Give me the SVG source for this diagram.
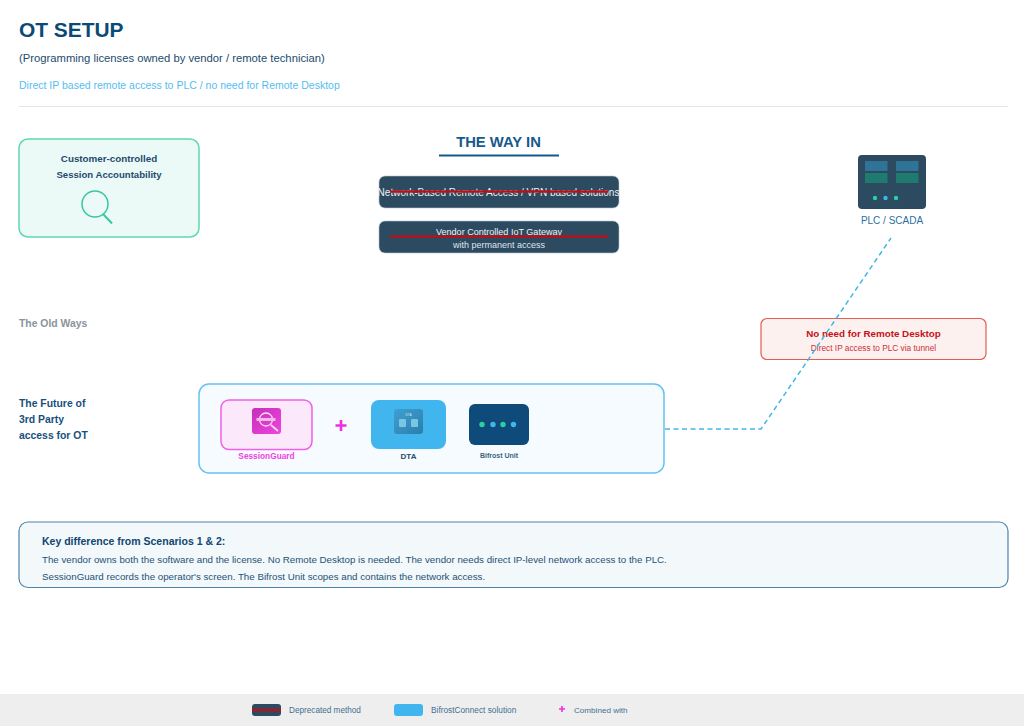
<svg xmlns="http://www.w3.org/2000/svg" width="1024" height="728" viewBox="0 0 1024 728">
<style>
text{font-family:"Liberation Sans",Arial,sans-serif}
.b{font-weight:700}
.m{text-anchor:middle}
.dep{fill:#2c4a60;stroke:#b8c4cc;stroke-width:.6}
.strike{stroke:#b5121b;stroke-width:2.4;fill:none}
.lnk{fill:none;stroke:#41b6e6;stroke-width:1.500;stroke-dasharray:5 3.500}
</style>
<defs>
<linearGradient id="sg" x1="0" y1="0" x2="1" y2="1"><stop offset="0" stop-color="#c62fb8"/><stop offset="1" stop-color="#f044e0"/></linearGradient>
<linearGradient id="dt" x1="0" y1="0" x2="1" y2="1"><stop offset="0" stop-color="#3f9fd0"/><stop offset="1" stop-color="#2a7fae"/></linearGradient>
</defs>
<rect width="1024" height="728" fill="#fff"/>
<g id="header">
<text x="19" y="37" font-size="20.900" class="b" fill="#0b4a78">OT SETUP</text>
<text x="19" y="62" font-size="11.250" fill="#1d4b6e">(Programming licenses owned by vendor / remote technician)</text>
<text x="19" y="89" font-size="10.500" fill="#55bdee">Direct IP based remote access to PLC / no need for Remote Desktop</text>
<line x1="19" y1="106.500" x2="1008" y2="106.500" stroke="#e3e5e7" stroke-width="1"/>
</g>
<g id="accountability">
<rect x="19" y="139" width="180" height="98" rx="9" fill="#ebfaf7" stroke="#5dd8b0" stroke-width="1.500"/>
<text x="109" y="162" font-size="9.800" class="b m" fill="#1f4a6e">Customer-controlled</text>
<text x="109" y="178" font-size="9.600" class="b m" fill="#1f4a6e">Session Accountability</text>
<circle cx="95" cy="204" r="13" fill="none" stroke="#38c9a0" stroke-width="1.500"/>
<line x1="103" y1="214" x2="112" y2="223.500" stroke="#38c9a0" stroke-width="2"/>
</g>
<g id="way-in">
<text x="498.500" y="147" font-size="14.800" class="b m" fill="#155a8c">THE WAY IN</text>
<line x1="439" y1="155.500" x2="559" y2="155.500" stroke="#155a8c" stroke-width="2"/>
</g>
<g id="vpn">
<rect class="dep" x="379" y="176" width="240" height="32" rx="6"/>
<text x="498.500" y="196" font-size="10" class="m" fill="#eef3f6">Network-Based Remote Access / VPN based solutions</text>
<line class="strike" x1="390" y1="191.500" x2="608" y2="191.500"/>
</g>
<g id="iot-gateway">
<rect class="dep" x="379" y="221" width="240" height="32" rx="6"/>
<text x="499" y="235" font-size="9.050" class="m" fill="#eef3f6">Vendor Controlled IoT Gateway</text>
<text x="499" y="248" font-size="9" class="m" fill="#dfe7ec">with permanent access</text>
<line class="strike" x1="390" y1="236.500" x2="608" y2="236.500"/>
</g>
<g id="plc">
<rect x="858" y="155" width="68" height="54" rx="4" fill="#2c4a60"/>
<rect x="865" y="161" width="22.500" height="10" fill="#2f7396"/>
<rect x="896" y="161" width="22.500" height="10" fill="#2f7396"/>
<rect x="865" y="173" width="22.500" height="10" fill="#1f7a70"/>
<rect x="896" y="173" width="22.500" height="10" fill="#1f7a70"/>
<circle cx="875" cy="198" r="2.200" fill="#2ad0a0"/>
<circle cx="885.500" cy="198" r="2.200" fill="#41b6e6"/>
<circle cx="896" cy="198" r="2.200" fill="#2ad0a0"/>
<text x="892" y="224" font-size="10" class="m" fill="#2c6f9e">PLC / SCADA</text>
</g>
<g id="no-rdp">
<rect x="761" y="318.500" width="225" height="41" rx="6" fill="#fdf1ef" stroke="#e45a55" stroke-width="1.200"/>
<text x="873.500" y="337" font-size="9.800" class="b m" fill="#c4111a">No need for Remote Desktop</text>
<text x="873.500" y="351" font-size="8.300" class="m" fill="#c8323a">Direct IP access to PLC via tunnel</text>
</g>
<g id="connectors">
<polyline class="lnk" points="665,429 761,429 891,238"/>
</g>
<g id="old-ways">
<text x="19" y="327" font-size="10.400" class="b" fill="#8c939a">The Old Ways</text>
</g>
<g id="future-label">
<text x="19" y="407" font-size="10.400" class="b" fill="#17507c">The Future of</text>
<text x="19" y="423" font-size="10.400" class="b" fill="#17507c">3rd Party</text>
<text x="19" y="439" font-size="10.400" class="b" fill="#17507c">access for OT</text>
</g>
<g id="future-panel">
<rect x="199" y="384" width="465" height="89" rx="10" fill="#f5fbfe" stroke="#66c2ee" stroke-width="1.500"/>
</g>
<g id="sessionguard">
<rect x="221" y="400" width="91" height="49.500" rx="8" fill="#fbe9fb" stroke="#f25fe6" stroke-width="1.500"/>
<rect x="252" y="408" width="29" height="26" rx="3" fill="url(#sg)"/>
<circle cx="266" cy="419.500" r="6.500" fill="none" stroke="#fbe0f8" stroke-width="1.300"/>
<rect x="256.500" y="418" width="19" height="3" fill="#f3b6ea"/>
<line x1="271" y1="425" x2="278" y2="431" stroke="#fbe0f8" stroke-width="1.800"/>
<text x="266.500" y="458.500" font-size="8.300" class="b m" fill="#f23fe0">SessionGuard</text>
</g>
<g id="plus">
<path d="M341 420v11M335.500 425.500h11" stroke="#f02fe0" stroke-width="2.600" fill="none"/>
</g>
<g id="dta">
<rect x="371" y="400" width="75" height="49" rx="8" fill="#41b6ee"/>
<rect x="394" y="409" width="29" height="25" rx="3" fill="url(#dt)"/>
<text x="408.500" y="416" font-size="3" class="m" fill="#d8f0fb">DTA</text>
<rect x="399" y="419" width="7" height="8" rx="1" fill="#7cc4e4"/>
<rect x="411" y="419" width="7" height="8" rx="1" fill="#7cc4e4"/>
<text x="408.500" y="458.500" font-size="8" class="b m" fill="#2c4a60">DTA</text>
</g>
<g id="bifrost">
<rect x="469" y="404" width="60" height="41" rx="6" fill="#0e4a7a"/>
<circle cx="482" cy="424.500" r="2.700" fill="#2ad0a0"/>
<circle cx="493" cy="424.500" r="2.700" fill="#41b6e6"/>
<circle cx="503" cy="424.500" r="2.700" fill="#2ad0a0"/>
<circle cx="513.500" cy="424.500" r="2.700" fill="#41b6e6"/>
<text x="499" y="458" font-size="7" class="b m" fill="#3c6480">Bifrost Unit</text>
</g>
<g id="key-difference">
<rect x="19" y="522" width="989" height="65.500" rx="9" fill="#f3f8fa" stroke="#4c84ac" stroke-width="1.200"/>
<text x="42" y="545" font-size="10.500" class="b" fill="#0f4672">Key difference from Scenarios 1 &amp; 2:</text>
<text x="42" y="563" font-size="9.740" fill="#1d5378">The vendor owns both the software and the license. No Remote Desktop is needed. The vendor needs direct IP-level network access to the PLC.</text>
<text x="42" y="580" font-size="9.740" fill="#1d5378">SessionGuard records the operator's screen. The Bifrost Unit scopes and contains the network access.</text>
</g>
<g id="legend">
<rect x="0" y="694" width="1024" height="32" fill="#eeeeee"/>
<rect x="252" y="704" width="29" height="12" rx="3" fill="#2c4a60"/>
<line x1="252" y1="710" x2="281" y2="710" stroke="#b5121b" stroke-width="2.500"/>
<text x="289" y="713" font-size="8.200" fill="#3f6f92">Deprecated method</text>
<rect x="394" y="704" width="29" height="12" rx="3" fill="#41b6ee"/>
<text x="431" y="713" font-size="8.300" fill="#3f6f92">BifrostConnect solution</text>
<path d="M562 706v6M559 709h6" stroke="#f02fe0" stroke-width="1.600" fill="none"/>
<text x="574" y="713" font-size="8.100" fill="#3f6f92">Combined with</text>
</g>
</svg>
